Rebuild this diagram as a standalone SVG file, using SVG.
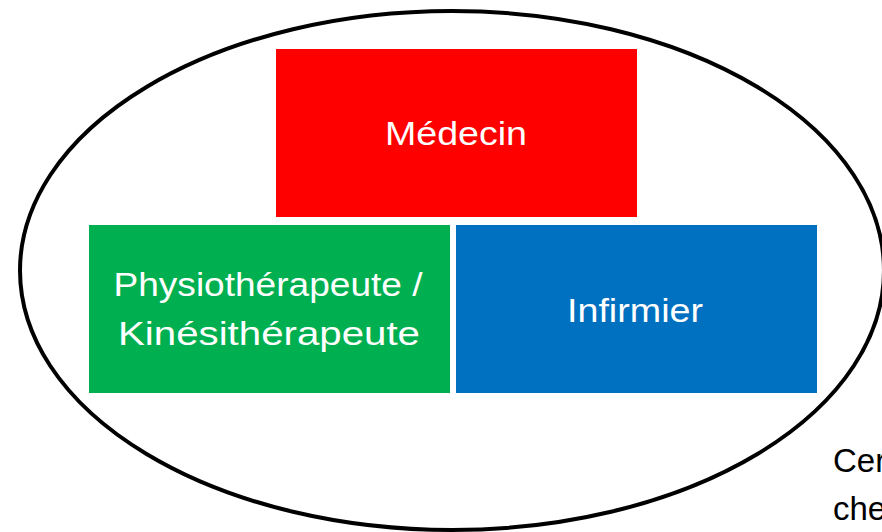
<svg xmlns="http://www.w3.org/2000/svg" width="882" height="532" viewBox="0 0 882 532">
  <style>
    .box-label { font-family: "Liberation Sans", Arial, sans-serif; font-size: 34px; fill: #ffffff; text-anchor: middle; }
    .side-text { font-family: "Liberation Sans", Arial, sans-serif; font-size: 33px; fill: #000000; }
  </style>
  <rect x="0" y="0" width="882" height="532" fill="#ffffff"/>
  <!-- enclosing team boundary -->
  <ellipse cx="452" cy="270.5" rx="432" ry="259.5" fill="none" stroke="#000000" stroke-width="4"/>
  <g id="medecin">
    <rect x="276" y="49" width="361" height="168" fill="#ff0000"/>
    <text class="box-label" x="456" y="145" textLength="142" lengthAdjust="spacingAndGlyphs">Médecin</text>
  </g>
  <g id="physio">
    <rect x="89" y="225" width="361" height="168" fill="#00b050"/>
    <text class="box-label" x="268" y="296" textLength="309" lengthAdjust="spacingAndGlyphs">Physiothérapeute /</text>
    <text class="box-label" x="269" y="345" textLength="302" lengthAdjust="spacingAndGlyphs">Kinésithérapeute</text>
  </g>
  <g id="infirmier">
    <rect x="456" y="225" width="361" height="168" fill="#0070c0"/>
    <text class="box-label" x="635" y="322" textLength="136" lengthAdjust="spacingAndGlyphs">Infirmier</text>
  </g>
  <g id="caption">
    <text class="side-text" x="833" y="472">Cer</text>
    <text class="side-text" x="833" y="520">che</text>
  </g>
</svg>
